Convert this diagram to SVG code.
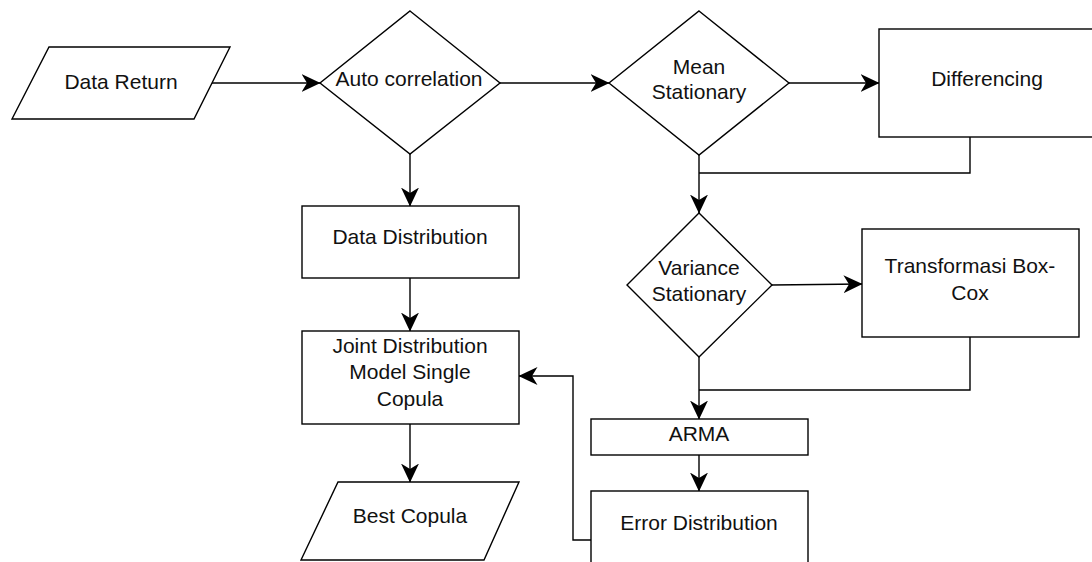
<svg xmlns="http://www.w3.org/2000/svg" width="1092" height="562" viewBox="0 0 1092 562">
<style>
.n{fill:#fff;stroke:#000;stroke-width:1.4}
.t{font-family:"Liberation Sans",Arial,sans-serif;font-size:21px;fill:#111;text-anchor:middle}
.c{fill:none;stroke:#000;stroke-width:1.4}
.a{marker-end:url(#ah)}
</style>
<defs>
<marker id="ah" markerUnits="userSpaceOnUse" viewBox="0 0 19 18" markerWidth="19" markerHeight="18" refX="18.5" refY="9" orient="auto">
<path d="M0,0 L19,9 L0,18 L5.5,9 Z" fill="#000"/>
</marker>
</defs>
<rect width="1092" height="562" fill="#fff"/>
<g id="connectors">
<path class="c a" d="M212,83 H320"/>
<path class="c a" d="M500,83 H609"/>
<path class="c a" d="M789,83 H879"/>
<path class="c" d="M970,137 V173 H699"/>
<path class="c a" d="M699,155 V213"/>
<path class="c a" d="M772,285 L862,284"/>
<path class="c" d="M970,337 V390 H699"/>
<path class="c a" d="M699,357 V419"/>
<path class="c a" d="M699,455 V491"/>
<path class="c a" d="M591,540 H573 V376 H519"/>
<path class="c a" d="M410,154 V206"/>
<path class="c a" d="M410,278 V331"/>
<path class="c a" d="M410,424 V482"/>
</g>
<g id="data-return">
<polygon class="n" points="49,47 230,47 194,119 12,119"/>
<text class="t" x="121" y="89">Data Return</text>
</g>
<g id="auto-correlation">
<polygon class="n" points="410,11 500,83 410,154 320,83"/>
<text class="t" x="409" y="86">Auto correlation</text>
</g>
<g id="mean-stationary">
<polygon class="n" points="699,11 789,83 699,155 609,83"/>
<text class="t" x="699" y="74">Mean</text>
<text class="t" x="699" y="99">Stationary</text>
</g>
<g id="differencing">
<rect class="n" x="879" y="29" width="217" height="108"/>
<text class="t" x="987" y="86">Differencing</text>
</g>
<g id="data-distribution">
<rect class="n" x="302" y="206" width="217" height="72"/>
<text class="t" x="410" y="244">Data Distribution</text>
</g>
<g id="joint-distribution">
<rect class="n" x="302" y="331" width="217" height="93"/>
<text class="t" x="410" y="353">Joint Distribution</text>
<text class="t" x="410" y="379">Model Single</text>
<text class="t" x="410" y="406">Copula</text>
</g>
<g id="best-copula">
<polygon class="n" points="338,482 519,482 484,560 301,560"/>
<text class="t" x="410" y="523">Best Copula</text>
</g>
<g id="variance-stationary">
<polygon class="n" points="699,213 772,285 699,357 627,285"/>
<text class="t" x="699" y="275">Variance</text>
<text class="t" x="699" y="301">Stationary</text>
</g>
<g id="transformasi">
<rect class="n" x="862" y="229" width="217" height="108"/>
<text class="t" x="970" y="273">Transformasi Box-</text>
<text class="t" x="970" y="300">Cox</text>
</g>
<g id="arma">
<rect class="n" x="591" y="419" width="217" height="36"/>
<text class="t" x="699" y="441">ARMA</text>
</g>
<g id="error-distribution">
<rect class="n" x="591" y="491" width="217" height="73"/>
<text class="t" x="699" y="530">Error Distribution</text>
</g>
</svg>
